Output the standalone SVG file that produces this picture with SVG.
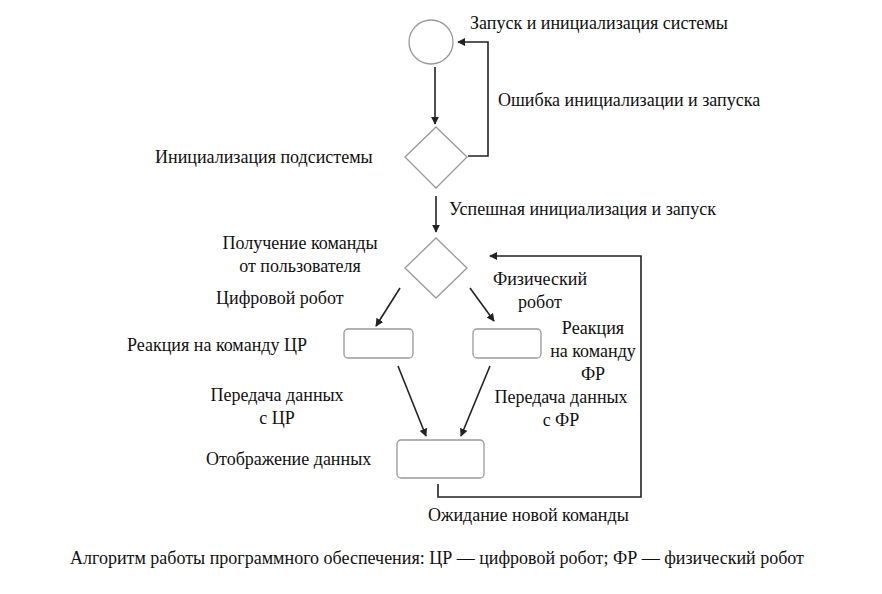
<svg xmlns="http://www.w3.org/2000/svg" width="882" height="594" viewBox="0 0 882 594">
<style>
text{font-family:"Liberation Serif","Times New Roman","DejaVu Serif",serif;font-size:18px;fill:#111}
.n{fill:#fff;stroke:#999;stroke-width:1.3}
.c{fill:none;stroke:#222;stroke-width:1.6;marker-end:url(#a)}
</style>
<defs><marker id="a" viewBox="0 0 10 10" refX="9" refY="5" markerWidth="8" markerHeight="8" orient="auto" markerUnits="userSpaceOnUse"><path d="M0,0L10,5L0,10z" fill="#222"/></marker></defs>
<rect width="882" height="594" fill="#fff"/>
<g id="connectors">
<path class="c" d="M435,67V124"/>
<path class="c" d="M468,156H488V42H458"/>
<path class="c" d="M436,196V232"/>
<path class="c" d="M400,288L376,326"/>
<path class="c" d="M470,288L494,321"/>
<path class="c" d="M398,366L426,436"/>
<path class="c" d="M490,366L461,436"/>
<path class="c" d="M438,484V497H641V256H490"/>
</g>
<g id="start"><circle class="n" cx="431" cy="42" r="22" stroke="#777"/></g>
<g id="init"><path class="n" d="M436,127L467,157L436,188L405,157z"/></g>
<g id="cmd"><path class="n" d="M436,238L467,268L436,298L405,268z"/></g>
<g id="dr"><rect class="n" x="344" y="329" width="69" height="29" rx="4"/></g>
<g id="pr"><rect class="n" x="473" y="329" width="68" height="29" rx="4"/></g>
<g id="disp"><rect class="n" x="397" y="440" width="87" height="38" rx="4"/></g>
<g id="labels">
<text x="470" y="29">Запуск и инициализация системы</text>
<text x="498" y="106">Ошибка инициализации и запуска</text>
<text x="155" y="163">Инициализация подсистемы</text>
<text x="449" y="215">Успешная инициализация и запуск</text>
<text x="300" y="249" text-anchor="middle">Получение команды</text>
<text x="300" y="272" text-anchor="middle">от пользователя</text>
<text x="540" y="285" text-anchor="middle">Физический</text>
<text x="540" y="308" text-anchor="middle">робот</text>
<text x="216" y="304">Цифровой робот</text>
<text x="593" y="334" text-anchor="middle">Реакция</text>
<text x="593" y="357" text-anchor="middle">на команду</text>
<text x="593" y="380" text-anchor="middle">ФР</text>
<text x="127" y="351">Реакция на команду ЦР</text>
<text x="277" y="401" text-anchor="middle">Передача данных</text>
<text x="277" y="424" text-anchor="middle">с ЦР</text>
<text x="561" y="403" text-anchor="middle">Передача данных</text>
<text x="561" y="426" text-anchor="middle">с ФР</text>
<text x="206" y="465">Отображение данных</text>
<text x="428" y="521">Ожидание новой команды</text>
<text x="437" y="564" text-anchor="middle">Алгоритм работы программного обеспечения: ЦР — цифровой робот; ФР — физический робот</text>
</g>
</svg>
